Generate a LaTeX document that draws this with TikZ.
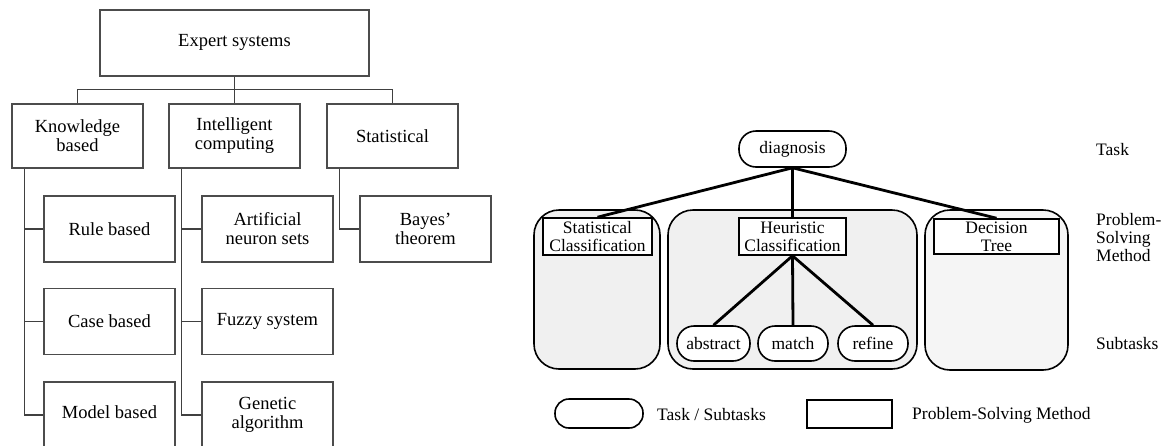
\documentclass[tikz,border=0pt]{standalone}
\usepackage{fontspec}
\setmainfont{Liberation Serif}
\begin{document}
\begin{tikzpicture}[x=1pt,y=-1pt,
  lbox/.style={draw=black!70, line width=1.1pt, minimum width=131pt, minimum height=65pt, align=center, inner sep=0pt, font=\fontsize{18.5}{19}\selectfont},
  lline/.style={draw=black!75, line width=1.2pt},
  taskbox/.style={draw, line width=1.6pt, rounded corners=17pt, fill=white, inner sep=0pt, font=\fontsize{17.5}{18}\selectfont},
  psmbox/.style={draw, line width=1.6pt, fill=white, align=center, inner sep=0pt, font=\fontsize{17.5}{18}\selectfont},
  contbox/.style={draw, line width=1.6pt, rounded corners=25pt, fill=black!6},
  conn/.style={line width=2.8pt},
  sidetext/.style={anchor=west, align=left, inner sep=0pt, font=\fontsize{17.5}{18}\selectfont}
]
\useasboundingbox (0,0) rectangle (1169,445);
\clip (0,0) rectangle (1169,445);

% ---------- left diagram ----------
\node[lbox, minimum width=269pt, minimum height=66pt] (es) at (234.5,43) {\raisebox{5pt}{Expert systems}};
\node[lbox, minimum height=64pt] (kb) at (77.5,136) {Knowledge\\based};
\node[lbox, minimum height=64pt] (ic) at (234.5,136) {Intelligent\\computing};
\node[lbox, minimum height=64pt] (st) at (392.5,136) {Statistical};

\node[lbox, minimum height=66pt] (rb) at (109.5,229) {Rule based};
\node[lbox, minimum height=66pt] (cb) at (109.5,321.5) {Case based};
\node[lbox, minimum height=66pt] (mb) at (109.5,415) {\raisebox{6pt}{Model based}};

\node[lbox, minimum height=66pt] (an) at (267.5,229) {Artificial\\neuron sets};
\node[lbox, minimum height=66pt] (fs) at (267.5,321.5) {Fuzzy system};
\node[lbox, minimum height=66pt] (ga) at (267.5,415) {Genetic\\algorithm};

\node[lbox, minimum height=66pt] (bt) at (425.5,229) {Bayes'\\theorem};

\draw[lline] (es.south) -- (ic.north);
\draw[lline] (kb.north) -- ++(0,-14) -| (st.north);

\draw[lline] ([xshift=13pt]kb.south west) |- (mb.west);
\draw[lline] ([xshift=13pt]kb.south west |- rb.west) -- (rb.west);
\draw[lline] ([xshift=13pt]kb.south west |- cb.west) -- (cb.west);

\draw[lline] ([xshift=13pt]ic.south west) |- (ga.west);
\draw[lline] ([xshift=13pt]ic.south west |- an.west) -- (an.west);
\draw[lline] ([xshift=13pt]ic.south west |- fs.west) -- (fs.west);

\draw[lline] ([xshift=13pt]st.south west) |- (bt.west);

% ---------- right diagram ----------
\node[contbox, minimum width=126pt, minimum height=159pt] (c1) at (597,289.5) {};
\node[contbox, minimum width=249pt, minimum height=159pt] (c2) at (792.5,289.5) {};
\node[contbox, fill=black!4, minimum width=143pt, minimum height=160pt] (c3) at (996.5,290) {};

\node[taskbox, minimum width=107pt, minimum height=36pt] (diag) at (792.5,149) {diagnosis};

\node[psmbox, minimum width=109pt, minimum height=37pt] (sc) at (597.5,236.5) {Statistical\\Classification};
\node[psmbox, minimum width=107pt, minimum height=37pt] (hc) at (792.5,236.5) {Heuristic\\Classification};
\node[psmbox, minimum width=125pt, minimum height=35pt] (dt) at (996.5,236.5) {Decision\\Tree};

\node[taskbox, minimum width=73pt, minimum height=35pt] (ab) at (713.5,343.5) {abstract};
\node[taskbox, minimum width=70pt, minimum height=35pt] (ma) at (793,343.5) {match};
\node[taskbox, minimum width=70pt, minimum height=35pt] (rf) at (873,343.5) {refine};

\draw[conn] (diag.south) -- (sc.north);
\draw[conn] (diag.south) -- (hc.north);
\draw[conn] (diag.south) -- (dt.north);
\draw[conn] (hc.south) -- (ab.north);
\draw[conn] (hc.south) -- (ma.north);
\draw[conn] (hc.south) -- (rf.north);

\node[sidetext] (ltask) at (1096,150) {Task};
\node[sidetext] (lpsm) at (1096,238) {Problem-\\Solving\\Method};
\node[sidetext] (lsub) at (1096,344) {Subtasks};

% legend
\node[taskbox, rounded corners=14pt, minimum width=88pt, minimum height=29pt] (legt) at (599,413.5) {};
\node[sidetext] (legtt) at (657,415) {Task / Subtasks};
\node[psmbox, minimum width=85pt, minimum height=28pt] (legp) at (849.5,414) {};
\node[sidetext] (legpt) at (912,415) {Problem-Solving Method};
\end{tikzpicture}
\end{document}
